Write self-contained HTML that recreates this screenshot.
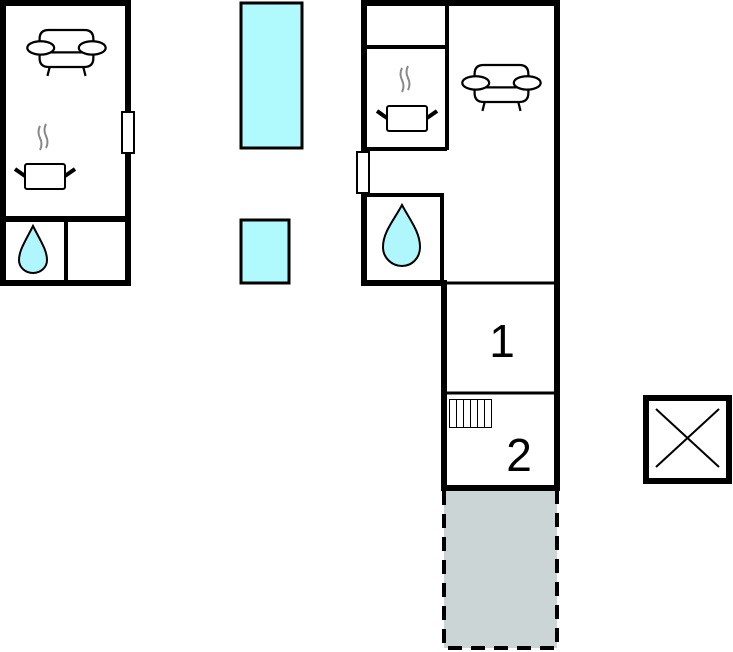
<!DOCTYPE html>
<html><head><meta charset="utf-8"><style>html,body{margin:0;padding:0;background:#fff}svg{display:block}</style></head><body>
<svg width="733" height="652" viewBox="0 0 733 652" xmlns="http://www.w3.org/2000/svg">
<defs>
<g id="sofa" fill="#fff" stroke="#000" stroke-width="2">
<path d="M13 0 H45 Q53 0 53 8 V25 Q53 33 45 33 H13 Q5 33 5 25 V8 Q5 0 13 0Z"/>
<line x1="5" y1="20" x2="53" y2="20"/>
<ellipse cx="6" cy="16" rx="12" ry="6"/>
<ellipse cx="52" cy="16" rx="12" ry="6"/>
<line x1="14" y1="33" x2="12" y2="41"/>
<line x1="44" y1="33" x2="46" y2="41"/>
</g>
<g id="pot">
<path d="M35 0 q-3 6 0 12 q3 6 0 12 M41 -2 q-3 6 0 12 q3 6 0 12" fill="none" stroke="#888" stroke-width="2"/>
<rect x="20" y="38" width="40" height="25" rx="2" fill="#fff" stroke="#000" stroke-width="2"/>
<line x1="20" y1="50" x2="10" y2="43" stroke="#000" stroke-width="4"/>
<line x1="60" y1="50" x2="70" y2="43" stroke="#000" stroke-width="4"/>
</g>
</defs>
<rect width="733" height="652" fill="#fff"/>
<!-- left building -->
<rect x="3" y="3" width="125" height="280" fill="#fff" stroke="#000" stroke-width="6"/>
<line x1="3" y1="219" x2="128" y2="219" stroke="#000" stroke-width="6"/>
<line x1="66" y1="219" x2="66" y2="283" stroke="#000" stroke-width="4"/>
<rect x="122" y="112" width="12" height="41" fill="#fff" stroke="#000" stroke-width="2"/>
<g transform="translate(34,30) scale(1.12)"><use href="#sofa"/></g>
<use href="#pot" x="5" y="126"/>
<path d="M33 226 C26 240 19 250 19 260 C19 268 26 273 33 273 C40 273 47 268 47 260 C47 250 40 240 33 226Z" fill="#b0f7fd" stroke="#000" stroke-width="2"/>
<!-- blue rects -->
<rect x="241" y="3" width="61" height="145" fill="#b0fafd" stroke="#000" stroke-width="3"/>
<rect x="241" y="220" width="48" height="63" fill="#b0fafd" stroke="#000" stroke-width="3"/>
<!-- right building -->
<rect x="444" y="488" width="113" height="160" fill="#ccd5d6"/>
<rect x="444" y="488" width="113" height="160" fill="none" stroke="#000" stroke-width="4" stroke-dasharray="14 9"/>
<path d="M364 283 V3 H557 V488 H444 V283 Z" fill="#fff" stroke="#000" stroke-width="6"/>
<line x1="447" y1="3" x2="447" y2="150" stroke="#000" stroke-width="4"/>
<line x1="364" y1="47" x2="447" y2="47" stroke="#000" stroke-width="4"/>
<line x1="364" y1="149" x2="447" y2="149" stroke="#000" stroke-width="4"/>
<path d="M364 195 H442 V283" fill="none" stroke="#000" stroke-width="4"/>
<line x1="364" y1="283" x2="447" y2="283" stroke="#000" stroke-width="6"/>
<line x1="444" y1="283" x2="557" y2="283" stroke="#000" stroke-width="3"/>
<line x1="444" y1="393" x2="557" y2="393" stroke="#000" stroke-width="3"/>
<rect x="357" y="152" width="12" height="41" fill="#fff" stroke="#000" stroke-width="2"/>
<g transform="translate(469,65) scale(1.12)"><use href="#sofa"/></g>
<use href="#pot" x="367" y="68"/>
<path d="M402 205 C394 220 383 232 383 247 C383 258 392 266 402 266 C412 266 420 258 420 247 C420 232 410 220 402 205Z" fill="#b0f7fd" stroke="#000" stroke-width="2"/>
<text x="502" y="357" font-family="Liberation Sans, sans-serif" font-size="46" text-anchor="middle">1</text>
<text x="519" y="471" font-family="Liberation Sans, sans-serif" font-size="46" text-anchor="middle">2</text>
<g fill="#fff" stroke="#000" stroke-width="1">
<rect x="449.5" y="399.5" width="42" height="28"/>
<line x1="456.5" y1="399" x2="456.5" y2="428"/><line x1="463.5" y1="399" x2="463.5" y2="428"/><line x1="470.5" y1="399" x2="470.5" y2="428"/><line x1="477.5" y1="399" x2="477.5" y2="428"/><line x1="484.5" y1="399" x2="484.5" y2="428"/>
</g>
<!-- X box -->
<rect x="646" y="398" width="83" height="83" fill="#fff" stroke="#000" stroke-width="6"/>
<line x1="656" y1="409" x2="719" y2="467" stroke="#000" stroke-width="2"/>
<line x1="719" y1="409" x2="656" y2="467" stroke="#000" stroke-width="2"/>
</svg>
</body></html>
